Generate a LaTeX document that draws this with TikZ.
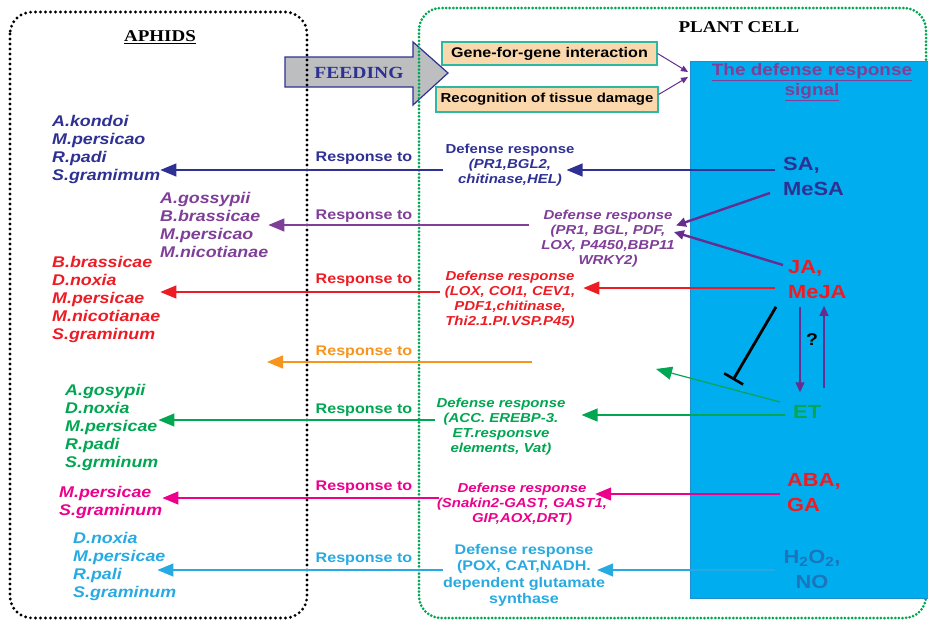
\documentclass[tikz,border=0pt]{standalone}
\usepackage{fontspec}
\setmainfont{Liberation Sans}[FakeStretch=1.15]
\newfontfamily\titlefont{Liberation Serif}[FakeStretch=1.15]
\usetikzlibrary{arrows.meta, positioning, calc}
\definecolor{aphnavy}{HTML}{2E3192}
\definecolor{aphpurple}{HTML}{7F3F98}
\definecolor{arrpurple}{HTML}{662D91}
\definecolor{aphred}{HTML}{ED1C24}
\definecolor{aphorange}{HTML}{F7941D}
\definecolor{aphgreen}{HTML}{00A651}
\definecolor{aphpink}{HTML}{EC008C}
\definecolor{aphsky}{HTML}{27AAE1}
\definecolor{sigblue}{HTML}{00AEEF}
\definecolor{sigedge}{HTML}{1E90CF}
\definecolor{h2oblue}{HTML}{1C75BC}
\definecolor{cuepeach}{HTML}{FBD7AC}
\definecolor{cueteal}{HTML}{2EB8A4}
\definecolor{feedgray}{HTML}{BCBEC0}

\begin{document}
\begin{tikzpicture}[
    x=1pt, y=-1pt,
    boxtitle/.style={font=\titlefont\bfseries\fontsize{16.5}{18}\selectfont, inner sep=1pt},
    aphbox/.style={rounded corners=22pt, line width=3.2pt, line cap=round,
      dash pattern=on 0pt off 5pt},
    cellbox/.style={aphbox, draw=aphgreen, line width=3pt, dash pattern=on 0pt off 3.6pt},
    cue/.style={draw=cueteal, fill=cuepeach, line width=1.2pt, minimum height=23pt,
      inner sep=2pt, font=\bfseries\fontsize{13}{15}\selectfont},
    aphlist/.style={anchor=west, inner sep=0pt, align=left,
      font=\bfseries\itshape\fontsize{15.5}{18}\selectfont},
    resp/.style={font=\bfseries\fontsize{14}{16}\selectfont, inner sep=1pt},
    defr/.style={align=center, inner sep=1pt, font=\bfseries\fontsize{13}{15}\selectfont},
    defit/.style={font=\bfseries\itshape\fontsize{13}{15}\selectfont},
    sig/.style={anchor=west, inner sep=0pt, align=left,
      font=\bfseries\fontsize{19}{25}\selectfont},
    larr/.style={-{Triangle[length=16pt, width=13pt]}, line width=1.3pt},
    darr/.style={-{Triangle[length=10pt, width=9pt]}, line width=2.4pt, arrpurple},
    cuearr/.style={-{Triangle[length=7pt, width=6pt]}, line width=1pt, arrpurple},
  ]
  \useasboundingbox (0,0) rectangle (928,621);

  % Feeding arrow
  \filldraw[fill=feedgray, draw=aphnavy, line width=1.2pt]
    (285,57) -- (413,57) -- (413,42) -- (448,73) -- (413,105) -- (413,87) -- (285,87) -- cycle;
  \node[boxtitle, aphnavy, font=\titlefont\bfseries\fontsize{17}{19}\selectfont] (feed) at (359,73) {FEEDING};

  % Aphids and plant cell
  \draw[aphbox] (10,12) rectangle (307,618);
  \draw[cellbox] (419,8) rectangle (926,618);
  \node[draw=sigedge, fill=sigblue, line width=1pt, anchor=north west,
    minimum width=260pt, minimum height=537pt] (sigbox) at (690,61) {};

  \node[boxtitle] (aphtitle) at (160,37) {\underline{APHIDS}};
  \node[boxtitle] (celltitle) at (739,27) {PLANT CELL};

  \node[cue, minimum width=215pt, font=\bfseries\fontsize{14}{16}\selectfont] (gene) at (549.5,53.5) {Gene-for-gene interaction};
  \node[cue, minimum width=222pt, minimum height=25pt] (tissue) at (547,99.5) {Recognition of tissue damage};
  \node[align=center, aphpurple, font=\bfseries\fontsize{16.5}{20}\selectfont] (signal) at (812,82)
    {\underline{The defense response}\\\underline{signal}};
  \draw[cuearr] (gene.east) -- ($(sigbox.north west)+(-2,11)$);
  \draw[cuearr] ($(tissue.east)+(0,-5)$) -- ($(sigbox.north west)+(-2,16)$);

  % Signals
  \node[sig, aphnavy] (sa) at (783,176) {SA,\\MeSA};
  \node[sig, aphred] (ja) at (788,279.5) {JA,\\MeJA};
  \node[sig, aphgreen] (et) at (793,412) {ET};
  \node[sig, aphred] (aba) at (787,492.5) {ABA,\\GA};
  \node[sig, h2oblue, align=center, anchor=center] (h2o) at (812,569)
    {H\textsubscript{2}O\textsubscript{2},\\NO};

  % Defense responses
  \node[defr, aphnavy] (def1) at (510,165) {Defense response\\\textit{(PR1,BGL2,}\\\textit{chitinase,HEL)}};
  \node[defr, defit, aphpurple] (def2) at (608,238.5) {Defense response\\(PR1, BGL, PDF,\\LOX, P4450,BBP11\\WRKY2)};
  \node[defr, defit, aphred] (def3) at (510,299.5) {Defense response\\(LOX, COI1, CEV1,\\PDF1,chitinase,\\Thi2.1.PI.VSP.P45)};
  \node[defr, defit, aphgreen] (def5) at (501,426.5) {Defense response\\(ACC. EREBP-3.\\ET.responsve\\elements, Vat)};
  \node[defr, defit, aphpink] (def6) at (522,504) {Defense response\\(Snakin2-GAST, GAST1,\\GIP,AOX,DRT)};
  \node[defr, aphsky, font=\bfseries\fontsize{14}{16.4}\selectfont] (def7) at (524,575.5) {Defense response\\(POX, CAT,NADH.\\dependent glutamate\\synthase};

  % Aphid lists
  \node[aphlist, aphnavy] (aph1) at (52,149) {A.kondoi\\M.persicao\\R.padi\\S.gramimum};
  \node[aphlist, aphpurple] (aph2) at (160,224.5) {A.gossypii\\B.brassicae\\M.persicao\\M.nicotianae};
  \node[aphlist, aphred] (aph3) at (52,299.5) {B.brassicae\\D.noxia\\M.persicae\\M.nicotianae\\S.graminum};
  \node[aphlist, aphgreen] (aph5) at (65,427) {A.gosypii\\D.noxia\\M.persicae\\R.padi\\S.grminum};
  \node[aphlist, aphpink] (aph6) at (59,502.5) {M.persicae\\S.graminum};
  \node[aphlist, aphsky] (aph7) at (73,566) {D.noxia\\M.persicae\\R.pali\\S.graminum};

  % Response to
  \node[resp, aphnavy] (resp1) at (364,158) {Response to};
  \node[resp, aphpurple] (resp2) at (364,216) {Response to};
  \node[resp, aphred] (resp3) at (364,280) {Response to};
  \node[resp, aphorange] (resp4) at (364,352) {Response to};
  \node[resp, aphgreen] (resp5) at (364,410) {Response to};
  \node[resp, aphpink] (resp6) at (364,487) {Response to};
  \node[resp, aphsky] (resp7) at (364,559) {Response to};

  % Row heights
  \coordinate (r1) at (0,170);
  \coordinate (r2) at (0,225);
  \coordinate (r3) at (0,292);
  \coordinate (r3i) at (0,288);
  \coordinate (r5) at (0,420);
  \coordinate (r5i) at (0,415);
  \coordinate (r6) at (0,498);
  \coordinate (r6i) at (0,494);
  \coordinate (r7) at (0,570);
  \coordinate (o1) at (532,362);
  \coordinate (o2) at (267,362);
  \coordinate (etend) at (656,369);
  \coordinate (jabar) at (733,380);
  \coordinate (qdown) at (800,0);
  \coordinate (qup) at (824,0);

  % Signal to defense response
  \draw[larr, aphnavy] ($(sa.west |- r1)+(-8,0)$) -- ($(def1.east |- r1)+(-9,0)$);
  \draw[darr] ($(sa.west)+(-13,17)$) -- ($(def2.east)+(0,-13)$);
  \draw[darr] ($(ja.west)+(-5,-14.5)$) -- ($(def2.east)+(-2,-6.5)$);
  \draw[larr, aphred] ($(ja.west |- r3i)+(-13,0)$) -- ($(def3.east |- r3i)+(7,0)$);
  \draw[larr, aphgreen] ($(et.west |- r5i)+(-8,0)$) -- ($(def5.east |- r5i)+(15,0)$);
  \draw[larr, aphgreen, line width=1.2pt] ($(et.west)+(-13,-10)$) -- (etend);
  \draw[larr, aphpink] ($(aba.west |- r6i)+(-7,0)$) -- ($(def6.east |- r6i)+(-13,0)$);
  \draw[larr, aphsky] ($(h2o.west |- r7)+(-8,0)$) -- ($(def7.east |- r7)+(-9,0)$);

  % JA and ET
  \draw[-{Bar[width=22pt, line width=2.6pt]}, line width=2.8pt] ($(ja.south west)+(-12,8)$) -- (jabar);
  \draw[darr, line width=1.3pt] ($(ja.south -| qdown)+(0,8)$) -- ($(et.north -| qdown)+(0,-13)$);
  \draw[darr, line width=1.3pt] ($(et.north -| qup)+(0,-17)$) -- ($(ja.south -| qup)+(0,7)$);
  \node[font=\bfseries\fontsize{17}{19}\selectfont] (ask) at (812,340) {?};

  % Defense response to aphids
  \draw[larr, aphnavy] ($(def1.west |- r1)+(-1,0)$) -- (aph1.east |- r1);
  \draw[larr, aphpurple] ($(def2.west |- r2)+(-11,0)$) -- (aph2.east |- r2);
  \draw[larr, aphred] ($(def3.west |- r3)+(-4,0)$) -- (aph3.east |- r3);
  \draw[larr, aphorange] (o1) -- (o2);
  \draw[larr, aphgreen] (def5.west |- r5) -- (aph5.east |- r5);
  \draw[larr, aphpink] ($(def6.west |- r6)+(3,0)$) -- (aph6.east |- r6);
  \draw[larr, aphsky] ($(def7.west |- r7)+(1,0)$) -- ($(aph7.east |- r7)+(-19,0)$);
\end{tikzpicture}
\end{document}
